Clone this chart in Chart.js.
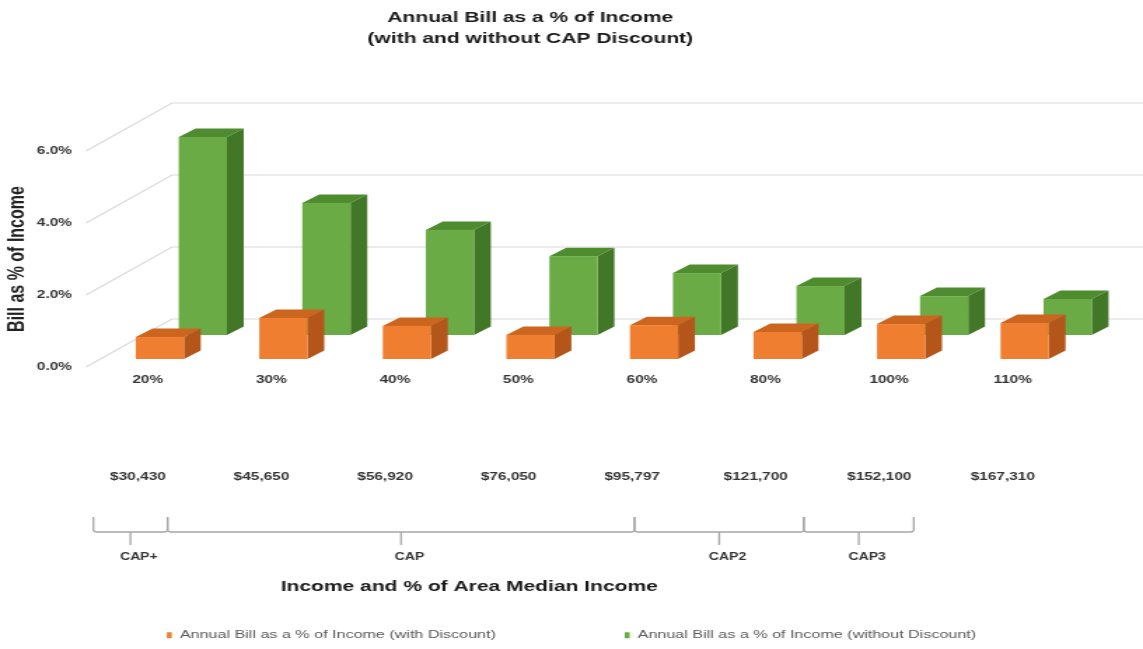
<!DOCTYPE html>
<html>
<head>
<meta charset="utf-8">
<script src="https://cdn.jsdelivr.net/npm/chart.js@4.4.1/dist/chart.umd.min.js"></script>
<style>
  html, body { margin: 0; padding: 0; background: #fff; }
  /* the original picture is stretched sideways, so the canvas is too */
  #c { display: block; width: 1143px !important; height: 649px !important; }
</style>
</head>
<body>
<canvas id="c" width="816" height="649" style="width:1143px;height:649px"></canvas>
<script>
const categories = ['20%', '30%', '40%', '50%', '60%', '80%', '100%', '110%'];
const incomes = ['$30,430', '$45,650', '$56,920', '$76,050', '$95,797', '$121,700', '$152,100', '$167,310'];
const withDiscount = [0.61, 1.14, 0.92, 0.67, 0.94, 0.75, 0.97, 1.0];
const withoutDiscount = [5.5, 3.67, 2.92, 2.19, 1.72, 1.36, 1.08, 1.0];

// CAP program brackets, in category units
const capGroups = ['CAP+', 'CAP', 'CAP2', 'CAP3'];
const capFrom = [-0.44, 0.16, 3.94, 5.31];
const capTo = [0.16, 3.94, 5.31, 6.2];

const FONT = "'Liberation Sans', Arial, sans-serif";

// 3d look
const wallDepth = {x: 61.4, y: -48};
const rowOffset = [{x: 8.6, y: -8}, {x: 39.3, y: -32}];
const barDepth = {x: 12, y: -8.5};
const topColors = ['#cc661f', '#4f8c30'];
const sideColors = ['#b4561a', '#417726'];

const bars3d = {
  id: 'bars3d',
  beforeDatasetsDraw(chart) {
    const ctx = chart.ctx;
    const area = chart.chartArea;
    const y = chart.scales.y;
    ctx.save();
    ctx.strokeStyle = '#dadada';
    ctx.lineWidth = 1.2;
    y.ticks.forEach(t => {
      const py = y.getPixelForValue(t.value);
      ctx.beginPath();
      ctx.moveTo(area.left, py);
      ctx.lineTo(area.left + wallDepth.x, py + wallDepth.y);
      ctx.lineTo(chart.width, py + wallDepth.y);
      ctx.stroke();
    });

    // back row (green) first, then front row (orange)
    for (let di = chart.data.datasets.length - 1; di >= 0; di--) {
      const meta = chart.getDatasetMeta(di);
      const ds = chart.data.datasets[di];
      const off = rowOffset[di];
      meta.data.forEach(bar => {
        const p = bar.getProps(['x', 'y', 'base', 'width'], true);
        const l = p.x - p.width / 2 + off.x;
        const r = p.x + p.width / 2 + off.x;
        const t = p.y + off.y;
        const b = p.base + off.y;

        ctx.fillStyle = topColors[di];
        ctx.beginPath();
        ctx.moveTo(l, t);
        ctx.lineTo(l + barDepth.x, t + barDepth.y);
        ctx.lineTo(r + barDepth.x, t + barDepth.y);
        ctx.lineTo(r, t);
        ctx.closePath();
        ctx.fill();

        ctx.fillStyle = sideColors[di];
        ctx.beginPath();
        ctx.moveTo(r, t);
        ctx.lineTo(r + barDepth.x, t + barDepth.y);
        ctx.lineTo(r + barDepth.x, b + barDepth.y);
        ctx.lineTo(r, b);
        ctx.closePath();
        ctx.fill();

        ctx.fillStyle = ds.backgroundColor;
        ctx.fillRect(l, t, r - l, b - t);
      });
    }
    ctx.restore();
    return false;
  },
  afterDraw(chart) {
    const ctx = chart.ctx;
    const x = chart.scales.x;
    ctx.save();
    ctx.textAlign = 'center';
    ctx.textBaseline = 'middle';

    // title
    ctx.fillStyle = '#1a1a1a';
    ctx.font = 'bold 15px ' + FONT;
    ctx.fillText('Annual Bill as a % of Income', 378.6, 18);
    ctx.fillText('(with and without CAP Discount)', 378.6, 39);

    // income row
    ctx.fillStyle = '#333';
    ctx.font = 'bold 11px ' + FONT;
    incomes.forEach((txt, i) => {
      ctx.fillText(txt, x.getPixelForValue(i) - 7, 477);
    });

    // brackets
    ctx.strokeStyle = '#a6a6a6';
    ctx.lineWidth = 1.3;
    const yTop = 517, yLine = 532, yTick = 545, rr = 2.5;
    capGroups.forEach((name, i) => {
      const a = x.getPixelForValue(capFrom[i]);
      const b = x.getPixelForValue(capTo[i]);
      const m = (a + b) / 2;
      ctx.beginPath();
      ctx.moveTo(a, yTop);
      ctx.lineTo(a, yLine - rr);
      ctx.quadraticCurveTo(a, yLine, a + rr, yLine);
      ctx.lineTo(b - rr, yLine);
      ctx.quadraticCurveTo(b, yLine, b, yLine - rr);
      ctx.lineTo(b, yTop);
      ctx.moveTo(m, yLine);
      ctx.lineTo(m, yTick);
      ctx.stroke();
      ctx.fillStyle = '#333';
      ctx.font = 'bold 10px ' + FONT;
      ctx.fillText(name, m + 6, 557);
    });

    // x axis title
    ctx.fillStyle = '#1a1a1a';
    ctx.font = 'bold 15px ' + FONT;
    ctx.fillText('Income and % of Area Median Income', 335, 587);
    ctx.restore();
  }
};

new Chart(document.getElementById('c'), {
  type: 'bar',
  data: {
    labels: categories,
    datasets: [
      {
        label: 'Annual Bill as a % of Income (with Discount)',
        data: withDiscount,
        backgroundColor: '#ef7e30',
        grouped: false
      },
      {
        label: 'Annual Bill as a % of Income (without Discount)',
        data: withoutDiscount,
        backgroundColor: '#6bab45',
        grouped: false
      }
    ]
  },
  options: {
    responsive: false,
    animation: false,
    devicePixelRatio: 1,
    layout: {padding: {top: 151, right: 0, left: 0, bottom: 0}},
    categoryPercentage: 1,
    barPercentage: 0.39,
    plugins: {
      tooltip: {enabled: false},
      legend: {
        position: 'bottom',
        maxHeight: 111.5,
        labels: {
          boxWidth: 3.5,
          boxHeight: 6,
          padding: 92,
          color: '#595959',
          font: {family: FONT, size: 11.5}
        }
      }
    },
    scales: {
      x: {
        grid: {display: false, drawTicks: false},
        border: {display: false},
        ticks: {
          padding: 6,
          color: '#333',
          font: {family: FONT, size: 11, weight: 'bold'}
        },
        afterFit(scale) { scale.height = 170.5; }
      },
      y: {
        min: 0,
        max: 6,
        grid: {display: false, drawTicks: false},
        border: {display: false},
        ticks: {
          stepSize: 2,
          padding: 10,
          color: '#333',
          font: {family: FONT, size: 11, weight: 'bold'},
          callback: v => v.toFixed(1) + '%'
        },
        title: {
          display: true,
          text: 'Bill as % of Income',
          color: '#222',
          padding: {top: 3.4, bottom: 0},
          font: {family: FONT, size: 16, weight: 'bold'}
        },
        afterFit(scale) { scale.width = 61.4; }
      },
      // empty right-hand strip so the plot ends where the original does
      side: {
        type: 'linear',
        position: 'right',
        grid: {display: false},
        border: {display: false},
        ticks: {display: false},
        afterFit(scale) { scale.width = 49; }
      }
    }
  },
  plugins: [bars3d]
});
</script>
</body>
</html>
